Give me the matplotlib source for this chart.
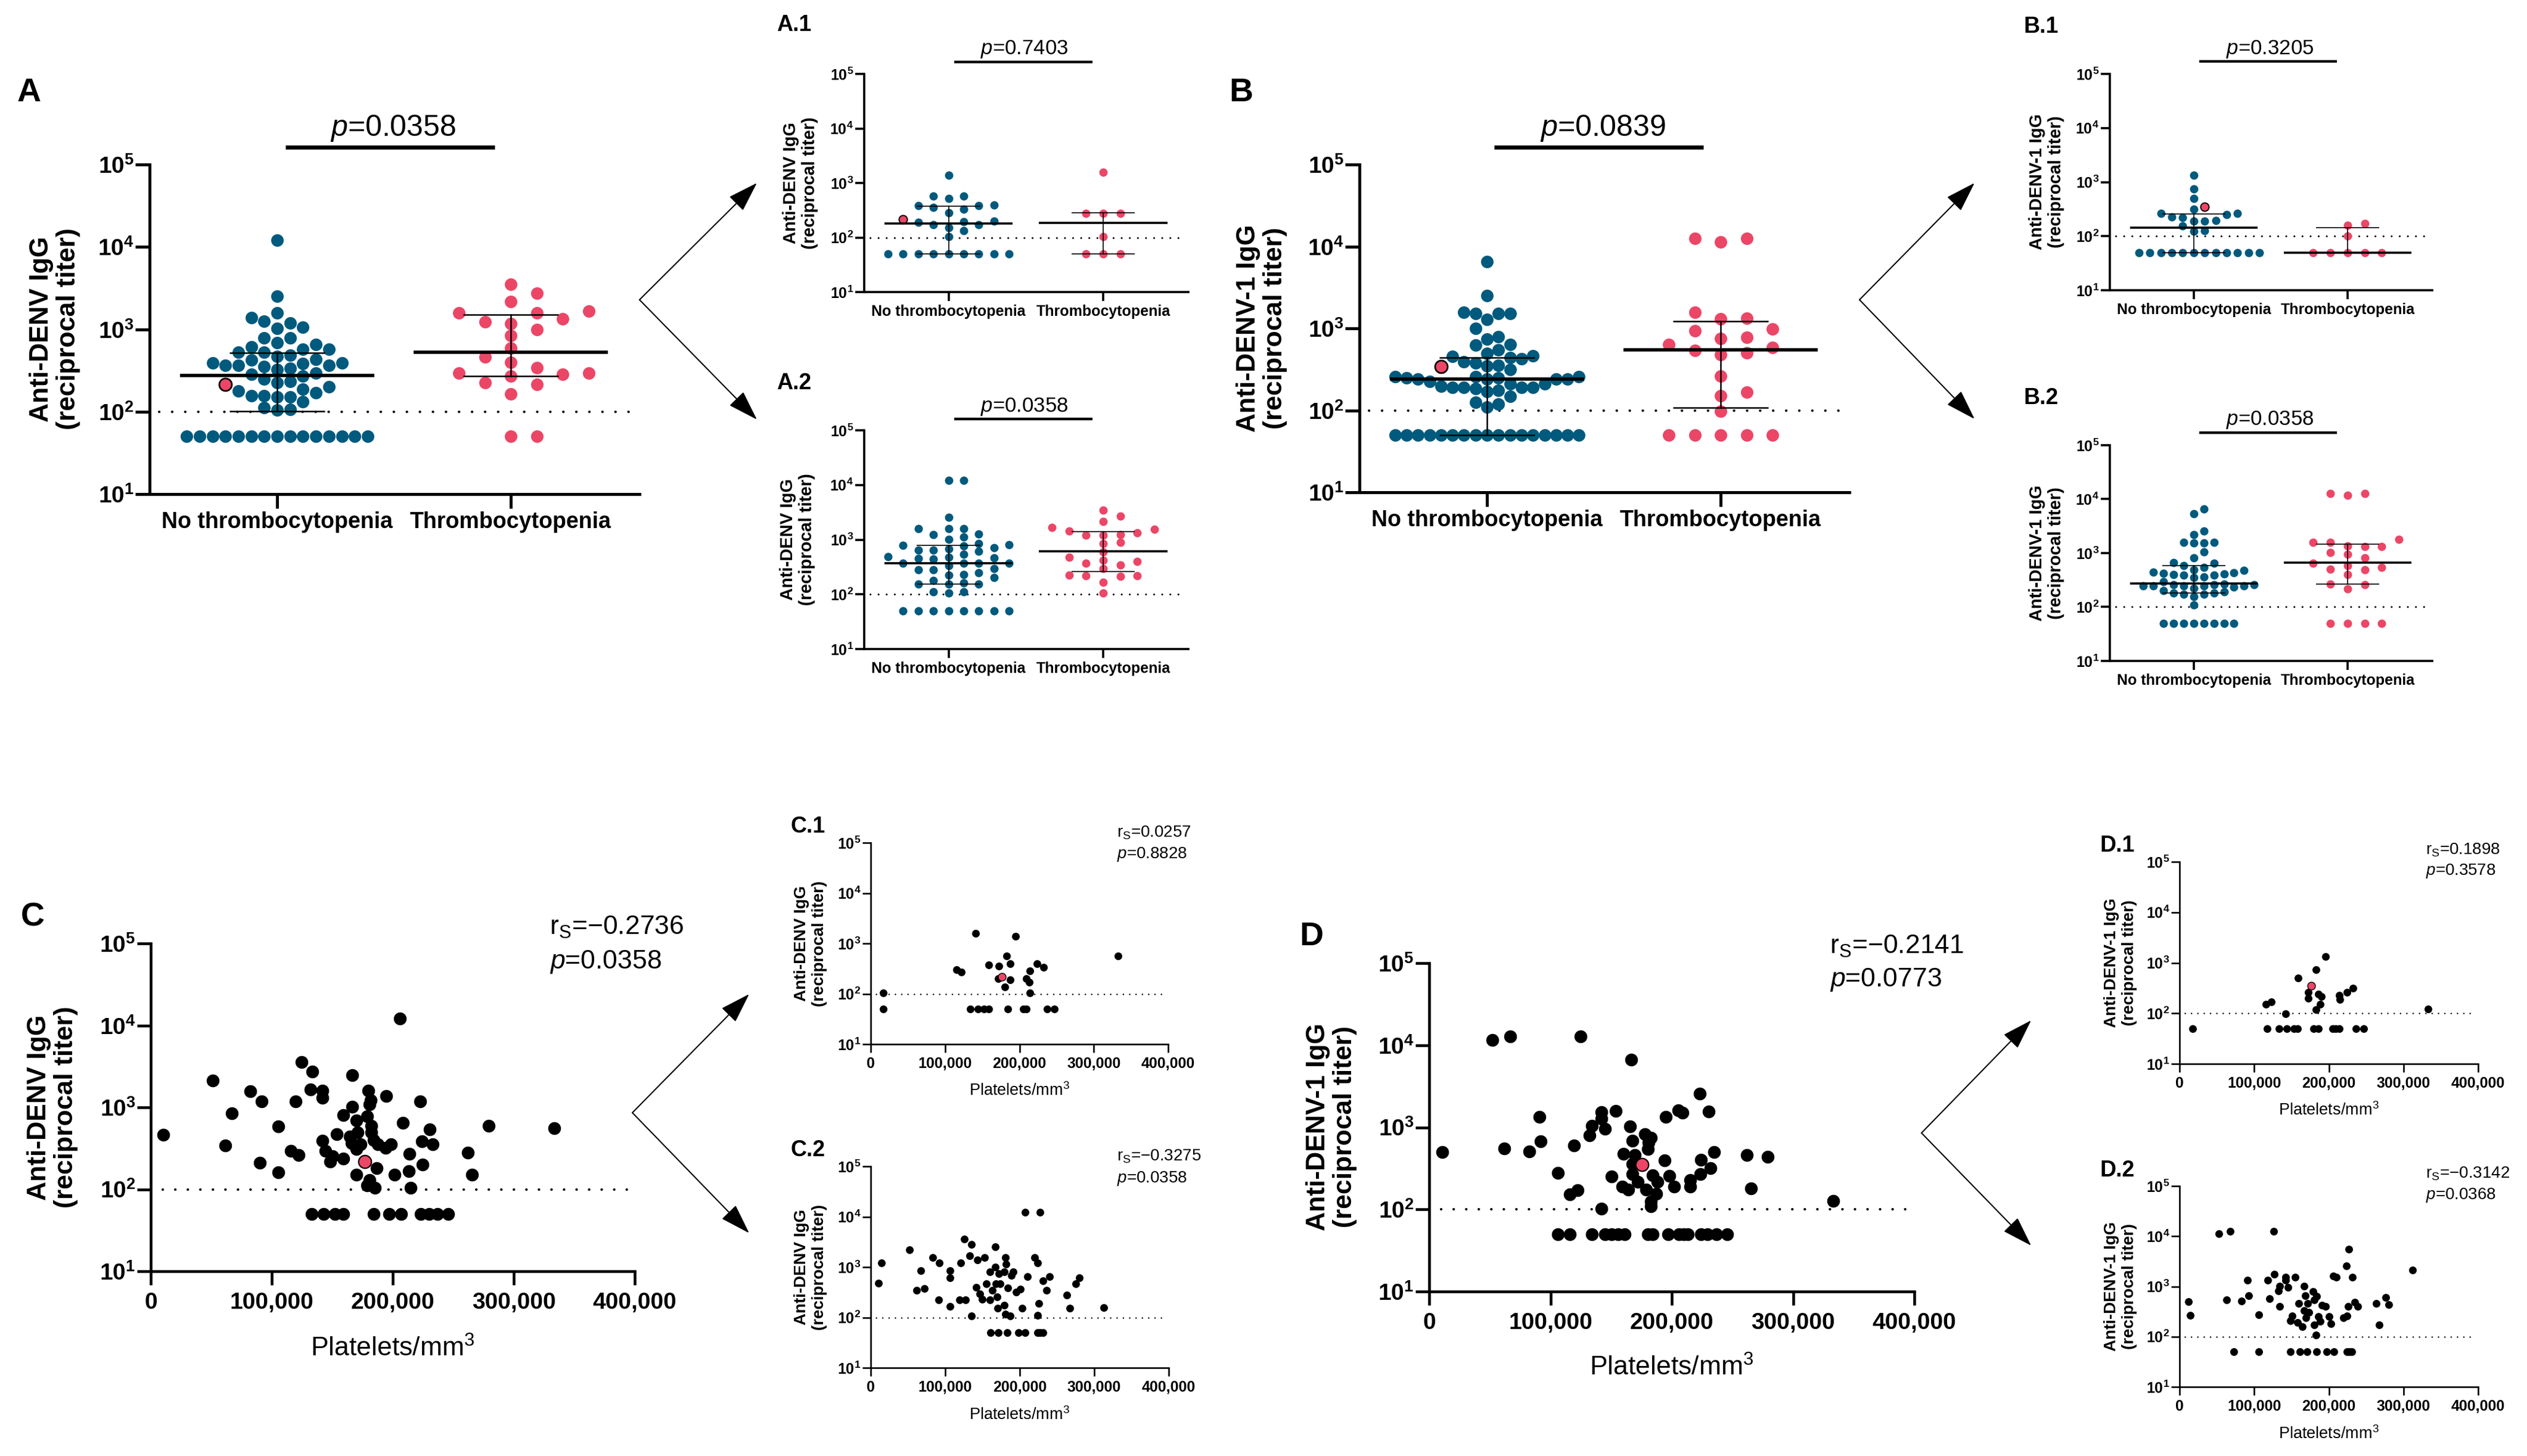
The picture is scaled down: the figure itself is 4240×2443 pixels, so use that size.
import numpy as np
import matplotlib
matplotlib.use("Agg")
import matplotlib.pyplot as plt
from matplotlib import font_manager
from matplotlib.ticker import NullLocator

W, H = 4240, 2443
BLUE = "#005a7d"
PINK = "#ec4667"

names = {f.name for f in font_manager.fontManager.ttflist}
FONT = "Liberation Sans" if "Liberation Sans" in names else "DejaVu Sans"
plt.rcParams["font.family"] = [FONT, "DejaVu Sans"]
plt.rcParams["mathtext.fontset"] = "custom"
plt.rcParams["mathtext.rm"] = FONT
plt.rcParams["mathtext.it"] = FONT + ":italic"
plt.rcParams["mathtext.bf"] = FONT + ":bold"

# ---------------------------------------------------------------- data
groups = ["No thrombocytopenia", "Thrombocytopenia"]
titer_ticks = [10, 100, 1000, 10000, 100000]
titer_tick_labels = [r"$\mathbf{10^{1}}$", r"$\mathbf{10^{2}}$", r"$\mathbf{10^{3}}$",
                     r"$\mathbf{10^{4}}$", r"$\mathbf{10^{5}}$"]
platelet_ticks = [0, 100000, 200000, 300000, 400000]
platelet_tick_labels = ["0", "100,000", "200,000", "300,000", "400,000"]
cutoff = 100

# Panel A: Anti-DENV IgG
A_no = [12100, 2535, 1578, 1387, 1253, 1192, 1057, 1030, 785, 785, 690, 650, 608, 573, 568,
        526, 526, 483, 471, 433, 422, 387, 387, 381, 365, 365, 365, 356, 335, 327, 295, 283,
        271, 249, 233, 225, 201, 188, 177, 170, 156, 156, 152, 152, 132, 111, 106, 105,
        50, 50, 50, 50, 50, 50, 50, 50, 50, 50, 50, 50, 50, 50, 50]
A_thr = [3530, 2740, 2180, 1570, 1650, 1580, 1230, 1340, 1180, 986, 834, 593, 463, 397, 344,
         295, 271, 283, 295, 214, 225, 163, 50, 50]
A_hl = [213]
A_median = [275, 526]
A_q1 = [102, 271]
A_q3 = [521, 1510]

# Panel A.1
A1_no = [1374, 570, 570, 524, 393, 380, 380, 360, 333, 282, 200, 196, 188, 170, 173, 153, 135,
         105, 50, 50, 50, 50, 50, 50, 50, 50, 50]
A1_thr = [1560, 276, 276, 276, 103, 50, 50, 50]
A1_hl = [214]
A1_median = [181, 185]
A1_q1 = [50, 50]
A1_q3 = [378, 286]

# Panel A.2
A2_no = [12100, 12100, 2560, 1589, 1589, 1589, 1280, 1247, 1110, 1023, 855, 817, 795, 714, 683,
         775, 647, 647, 607, 540, 477, 485, 463, 451, 444, 370, 370, 370, 370, 339, 296, 283,
         283, 247, 226, 232, 201, 177, 153, 153, 153, 162, 105, 110, 112,
         50, 50, 50, 50, 50, 50, 50, 50]
A2_thr = [3500, 2723, 2136, 1560, 1660, 1426, 1213, 1327, 1247, 1213, 855, 886, 597, 477, 424,
          370, 348, 398, 296, 220, 220, 212, 226, 165, 107]
A2_hl = []
A2_median = [370, 607]
A2_q1 = [153, 259]
A2_q3 = [782, 1400]

# Panel B: Anti-DENV-1 IgG
B_no = [6560, 2513, 1528, 1528, 1528, 1567, 1288, 1005, 790, 738, 638, 621, 547, 493, 441, 453,
        465, 427, 381, 392, 356, 313, 350, 248, 259, 242, 242, 242, 242, 248, 259, 259, 209,
        209, 189, 224, 184, 189, 189, 189, 176, 197, 169, 149, 120, 125, 110,
        50, 50, 50, 50, 50, 50, 50, 50, 50, 50, 50, 50, 50, 50, 50, 50, 50]
B_thr = [12480, 12480, 11250, 1567, 1297, 1320, 979, 938, 777, 757, 638, 537, 585, 481, 506,
         264, 151, 166, 97, 50, 50, 50, 50, 50]
B_hl = [341]
B_median = [242, 551]
B_q1 = [50, 108]
B_q3 = [441, 1213]

# Panel B.1
B1_no = [1334, 750, 504, 316, 265, 265, 249, 220, 225, 190, 197, 190, 153, 122, 125,
         50, 50, 50, 50, 50, 50, 50, 50, 50, 50, 50, 50]
B1_thr = [157, 173, 100, 50, 50, 50, 50, 50]
B1_hl = [350]
B1_median = [142, 50]
B1_q1 = [50, 50]
B1_q3 = [256, 142]

# Panel B.2
B2_no = [6590, 5430, 2557, 2204, 1549, 1549, 1592, 1578, 1045, 817, 674, 591, 645, 541, 474,
         442, 424, 495, 365, 398, 391, 408, 435, 391, 349, 293, 268, 225, 245, 257, 245, 245,
         257, 245, 245, 261, 235, 201, 173, 189, 173, 181, 181, 158, 110,
         50, 50, 50, 50, 50, 50, 50, 50]
B2_thr = [12740, 12740, 11680, 1815, 1578, 1578, 1359, 1323, 1323, 1018, 940, 817, 656, 581,
          509, 541, 495, 398, 268, 261, 215, 50, 50, 50, 50]
B2_hl = []
B2_median = [273, 662]
B2_q1 = [181, 264]
B2_q3 = [581, 1459]

p_values = {"A": "0.0358", "A.1": "0.7403", "A.2": "0.0358",
            "B": "0.0839", "B.1": "0.3205", "B.2": "0.0358"}

# Panel C: platelets vs Anti-DENV IgG  (platelets/mm3, titer)
C_points = [(10100, 462), (51300, 2133), (66800, 840), (61400, 342), (82400, 1560),
            (91400, 1175), (90300, 211), (105500, 590), (105500, 162), (115600, 295),
            (122100, 264), (119600, 1175), (124700, 3548), (133300, 2710), (131900, 1644),
            (142000, 1585), (142000, 1313), (142000, 389), (144500, 295), (148100, 219),
            (150000, 254), (153600, 469), (159000, 809), (159000, 236), (164400, 438),
            (166600, 2477), (166600, 1012), (166200, 369), (169800, 697), (169800, 310),
            (169800, 151), (170900, 498), (173400, 356), (178900, 778), (180000, 1585),
            (181800, 1219), (180700, 1089), (182500, 600), (182500, 498), (184300, 397),
            (180700, 130), (178900, 112), (185400, 104), (186800, 182), (187900, 356),
            (194000, 318), (194400, 1366), (198700, 356), (201600, 151), (206000, 12080),
            (208500, 646), (213900, 273), (213200, 168), (215000, 104), (222900, 1175),
            (224000, 383), (224800, 199), (230500, 536), (233100, 356), (262000, 280),
            (265600, 151), (279300, 600), (333500, 556),
            (133000, 50), (143000, 50), (152000, 50), (159000, 50), (184000, 50), (197000, 50),
            (207000, 50), (223000, 50), (230000, 50), (237000, 50), (246000, 50)]
C_hl = [(177000, 219)]

C1_points = [(17200, 104), (17200, 50), (115600, 299), (121600, 272), (141300, 1570),
             (158500, 380), (172500, 359), (171400, 199), (182800, 570), (187800, 394),
             (180000, 135), (187800, 188), (195000, 1380), (209300, 199), (214000, 282),
             (212900, 171), (214000, 104), (223600, 394), (232600, 340), (332700, 570),
             (133500, 50), (144000, 50), (152000, 50), (158500, 50), (184000, 50),
             (205000, 50), (209000, 50), (237000, 50), (247000, 50)]
C1_hl = [(176000, 218)]

C2_points = [(10700, 479), (14300, 1202), (51900, 2208), (61900, 350), (67300, 847),
             (72300, 370), (83000, 1556), (91200, 221), (92300, 1202), (106600, 847),
             (106600, 608), (106600, 167), (118800, 221), (120600, 1202), (125900, 3631),
             (127000, 221), (132400, 1675), (134900, 2806), (134900, 106), (141300, 398),
             (143100, 1393), (146700, 291), (149200, 229), (152800, 1528), (154900, 461),
             (159900, 221), (159900, 802), (163500, 350), (167400, 2559), (167400, 1000),
             (168200, 461), (169200, 256), (170700, 153), (172100, 731), (173500, 461),
             (178900, 802), (178900, 177), (180700, 1528), (181400, 1159), (180700, 116),
             (184300, 384), (187100, 106), (188600, 692), (191400, 802), (195000, 319),
             (200400, 363), (203200, 153), (207500, 12250), (210000, 643), (220000, 1556),
             (223600, 1202), (223600, 110), (225400, 191), (227200, 12250), (230800, 535),
             (236100, 350), (239700, 643), (263000, 275), (267300, 153), (275500, 461),
             (280100, 608), (313100, 158),
             (161000, 50), (171000, 50), (183500, 50), (198000, 50), (207500, 50),
             (223600, 50), (227000, 50), (230800, 50)]
C2_hl = []

# Panel D: platelets vs Anti-DENV-1 IgG
D_points = [(10800, 497), (51900, 11560), (66700, 12700), (62000, 551), (82500, 506),
            (90800, 1349), (91900, 670), (105900, 278), (116000, 153), (122200, 171),
            (119600, 600), (125000, 12700), (132300, 794), (134100, 1045), (142000, 1531),
            (142000, 1270), (144900, 958), (142000, 102), (150300, 251), (153900, 1571),
            (160000, 476), (159300, 190), (164000, 174), (166500, 6640), (165800, 1026),
            (167600, 681), (169400, 456), (167600, 359), (167600, 267), (171900, 215),
            (178000, 829), (180900, 653), (182700, 742), (180200, 541), (184500, 260),
            (179100, 174), (188100, 215), (187400, 156), (182700, 124), (182700, 109),
            (194200, 398), (195300, 1349), (198200, 255), (201800, 190), (205400, 1600),
            (209000, 1506), (215100, 229), (215100, 190), (223100, 2553), (224100, 402),
            (223400, 267), (230300, 1558), (232100, 316), (235000, 497), (262000, 456),
            (265600, 179), (278900, 434), (333300, 126),
            (105900, 50), (116000, 50), (134000, 50), (145000, 50), (150300, 50),
            (155700, 50), (161000, 50), (180200, 50), (184500, 50), (197000, 50),
            (206000, 50), (209700, 50), (213300, 50), (224100, 50), (229500, 50),
            (236800, 50), (245800, 50)]
D_hl = [(175500, 350)]

D1_points = [(17400, 50), (115800, 150), (122700, 168), (142500, 98), (159100, 503),
             (172300, 262), (172300, 199), (183200, 729), (185900, 239), (189700, 218),
             (188600, 150), (183200, 118), (195500, 1321), (214100, 226), (214900, 188),
             (224600, 262), (232300, 316), (333000, 123),
             (117300, 50), (133600, 50), (144000, 50), (153000, 50), (158000, 50),
             (179300, 50), (185900, 50), (205200, 50), (209100, 50), (213700, 50),
             (236600, 50), (247000, 50)]
D1_hl = [(176200, 347)]

D2_points = [(11600, 498), (14300, 264), (52300, 11350), (67800, 12450), (62700, 546),
             (83300, 507), (91000, 1334), (92500, 658), (106500, 274), (118100, 1334),
             (120800, 578), (125800, 12450), (126600, 1762), (132400, 807), (134400, 1009),
             (134400, 398), (142500, 1521), (142500, 1334), (145200, 955), (148300, 207),
             (151000, 259), (154900, 1521), (158000, 189), (159900, 462), (164600, 157),
             (166500, 1009), (166500, 330), (168400, 658), (169600, 241), (171500, 454),
             (173100, 301), (178900, 792), (180100, 172), (180800, 546), (183900, 634),
             (183200, 108), (185900, 250), (188600, 200), (190500, 421), (195500, 398),
             (200200, 250), (202500, 182), (206000, 1607), (209900, 1521), (219600, 237),
             (223500, 2559), (224600, 259), (225800, 398), (226600, 5585), (231200, 1521),
             (235100, 480), (238900, 398), (263300, 454), (267200, 172), (276100, 600),
             (280000, 437), (312500, 2123),
             (72400, 50), (106500, 50), (148300, 50), (161500, 50), (171100, 50),
             (183900, 50), (197400, 50), (207100, 50), (224600, 50), (227300, 50),
             (230400, 50)]
D2_hl = []

spearman = {"C": ("\u22120.2736", "0.0358"), "C.1": ("0.0257", "0.8828"),
            "C.2": ("\u22120.3275", "0.0358"), "D": ("\u22120.2141", "0.0773"),
            "D.1": ("0.1898", "0.3578"), "D.2": ("\u22120.3142", "0.0368")}

# ---------------------------------------------------------------- styles
MAIN_DOT = dict(spine=3.6, tlen=17, xfs=27, yfs=28, xpad=4, ypad=2, diam=21, hl_lw=2.0,
                med_lw=4.0, iqr_lw=1.8, dot_lw=3.0, gap=5.2, dx=(0.019, 0.983))
INS_DOT = dict(spine=2.6, tlen=11, xfs=18, yfs=18, xpad=4, ypad=2, diam=14, hl_lw=1.4,
               med_lw=2.6, iqr_lw=1.2, dot_lw=2.2, gap=4.4, dx=(0.018, 0.99))
MAIN_SC = dict(spine=3.3, tlen=16.5, xfs=28, yfs=28, xpad=9, ypad=2, diam=21.5, hl_lw=1.6,
               dot_lw=3.0, gap=5.0, dx=(0.025, 0.984))
INS_SC = dict(spine=1.9, tlen=10, xfs=18, yfs=18, xpad=5, ypad=2, diam=13, hl_lw=1.0,
              dot_lw=1.8, gap=4.2, dx=(0.018, 0.986))

fig = plt.figure(figsize=(W / 100, H / 100), dpi=100)


def add_ax(box):
    l, t, r, b = box
    return fig.add_axes([l / W, 1 - b / H, (r - l) / W, (b - t) / H])


def base_axes(box, st):
    ax = add_ax(box)
    ax.patch.set_alpha(0)
    for s in ("top", "right"):
        ax.spines[s].set_visible(False)
    for s in ("left", "bottom"):
        ax.spines[s].set_linewidth(st["spine"])
        ax.spines[s].set_capstyle("projecting")
    ax.set_yscale("log")
    ax.set_ylim(10, 1e5)
    ax.set_yticks(titer_ticks, labels=titer_tick_labels, fontsize=st["yfs"])
    ax.yaxis.set_minor_locator(NullLocator())
    ax.tick_params(axis="both", which="major", direction="out", length=st["tlen"],
                   width=st["spine"], color="black")
    ax.tick_params(axis="y", pad=st["ypad"])
    ax.tick_params(axis="x", pad=st["xpad"])
    ax.axhline(cutoff, xmin=st["dx"][0], xmax=st["dx"][1], color="black", lw=st["dot_lw"],
               ls=(0, (0.05, st["gap"])), dash_capstyle="round", zorder=2)
    return ax


def swarm_x(ax, center, vals, step_px, diam_px, n_last=0):
    """Grid beeswarm: each point goes to the nearest free column (display pixels)."""
    vals = np.asarray(vals, dtype=float)
    n = len(vals)
    if n == 0:
        return np.array([])
    ys = ax.transData.transform(np.column_stack([np.full(n, center), vals]))[:, 1]
    ux = ax.transData.transform((center + 1, 100))[0] - ax.transData.transform((center, 100))[0]
    order = list(np.argsort(ys[:n - n_last], kind="stable")) + list(range(n - n_last, n))
    cands = [0]
    for k in range(1, 80):
        cands += [k, -k]
    placed = []
    off = np.zeros(n)
    lim = min(0.97 * diam_px, 0.99 * step_px) ** 2
    for i in order:
        for c in cands:
            cx = c * step_px
            if all((cx - px) ** 2 + (ys[i] - py) ** 2 >= lim for px, py in placed):
                off[i] = cx
                placed.append((cx, ys[i]))
                break
    return center + off / ux


def dot_panel(box, no, thr, hl, med, q1, q3, st, step_no, step_thr):
    ax = base_axes(box, st)
    ax.set_xlim(-0.546, 1.551)
    ax.set_xticks([0, 1], labels=groups, fontsize=st["xfs"], fontweight="bold")
    x_no = swarm_x(ax, 0, list(no) + list(hl), step_no, st["diam"], n_last=len(hl))
    x_thr = swarm_x(ax, 1, thr, step_thr, st["diam"])
    msz = (st["diam"] * 0.72) ** 2
    ax.scatter(x_no[:len(no)], no, s=msz, color=BLUE, linewidths=0, zorder=3)
    ax.scatter(x_thr, thr, s=msz, color=PINK, linewidths=0, zorder=3)
    if len(hl):
        ax.scatter(x_no[len(no):], hl, s=msz, facecolor=PINK, edgecolor="black",
                   linewidths=st["hl_lw"], zorder=4)
    for i in range(2):
        ax.plot([i - 0.415, i + 0.415], [med[i], med[i]], color="black", lw=st["med_lw"],
                solid_capstyle="butt", zorder=5)
        ax.plot([i, i], [q1[i], q3[i]], color="black", lw=st["iqr_lw"], zorder=5)
        for q in (q1[i], q3[i]):
            ax.plot([i - 0.205, i + 0.205], [q, q], color="black", lw=st["iqr_lw"],
                    solid_capstyle="butt", zorder=5)
    return ax


def scatter_panel(box, pts, hl, st):
    ax = base_axes(box, st)
    ax.set_xlim(0, 400000)
    ax.set_xticks(platelet_ticks, labels=platelet_tick_labels, fontsize=st["xfs"],
                  fontweight="bold")
    msz = (st["diam"] * 0.72) ** 2
    px = [p[0] for p in pts]
    ty = [p[1] for p in pts]
    ax.scatter(px, ty, s=msz, color="black", linewidths=0, zorder=3, clip_on=False)
    if len(hl):
        ax.scatter([p[0] for p in hl], [p[1] for p in hl], s=msz, facecolor=PINK,
                   edgecolor="black", linewidths=st["hl_lw"], zorder=4, clip_on=False)
    return ax


# ---------------------------------------------------------------- panels
dot_panel((251, 276, 1073, 829), A_no, A_thr, A_hl, A_median, A_q1, A_q3, MAIN_DOT, 21.7, 43.5)
dot_panel((1450, 124, 1994, 490), A1_no, A1_thr, A1_hl, A1_median, A1_q1, A1_q3,
          INS_DOT, 25.4, 28.7)
dot_panel((1450, 722, 1994, 1089), A2_no, A2_thr, A2_hl, A2_median, A2_q1, A2_q3,
          INS_DOT, 25.4, 28.7)
dot_panel((2281, 276, 3103, 826), B_no, B_thr, B_hl, B_median, B_q1, B_q3, MAIN_DOT, 19.3, 43.5)
dot_panel((3540, 124, 4081, 487), B1_no, B1_thr, B1_hl, B1_median, B1_q1, B1_q3,
          INS_DOT, 18.4, 28.7)
dot_panel((3540, 747, 4081, 1109), B2_no, B2_thr, B2_hl, B2_median, B2_q1, B2_q3,
          INS_DOT, 16.9, 28.7)

scatter_panel((253, 1583, 1065, 2133), C_points, C_hl, MAIN_SC)
scatter_panel((1461, 1414, 1960, 1752), C1_points, C1_hl, INS_SC)
scatter_panel((1461, 1957, 1961, 2295), C2_points, C2_hl, INS_SC)
scatter_panel((2398, 1616, 3212, 2167), D_points, D_hl, MAIN_SC)
scatter_panel((3657, 1446, 4158, 1785), D1_points, D1_hl, INS_SC)
scatter_panel((3657, 1990, 4158, 2327), D2_points, D2_hl, INS_SC)

# ---------------------------------------------------------------- annotations (pixel overlay)
ov = fig.add_axes([0, 0, 1, 1], zorder=10)
ov.set_xlim(0, W)
ov.set_ylim(H, 0)
ov.axis("off")

# panel letters
for t, x, y in [("A", 49, 156), ("B", 2082, 156), ("C", 55, 1540), ("D", 2200, 1572)]:
    ov.text(x, y, t, fontsize=40, fontweight="bold", ha="center", va="center")
for t, x, y in [("A.1", 1303, 42), ("A.2", 1303, 643), ("B.1", 3395, 45), ("B.2", 3395, 668),
                ("C.1", 1327, 1387), ("C.2", 1327, 1930), ("D.1", 3524, 1419),
                ("D.2", 3524, 1964)]:
    ov.text(x, y, t, fontsize=27, fontweight="bold", ha="left", va="center")

# y-axis titles
ylab_denv = "Anti-DENV IgG\n(reciprocal titer)"
ylab_denv1 = "Anti-DENV-1 IgG\n(reciprocal titer)"
for lab, x, y, fs in [(ylab_denv, 92, 552, 32), (ylab_denv1, 2117, 551, 32),
                      (ylab_denv, 1343, 307, 21), (ylab_denv, 1338, 905, 21),
                      (ylab_denv1, 3434, 305, 21), (ylab_denv1, 3434, 928, 21),
                      (ylab_denv, 88, 1858, 32), (ylab_denv, 1360, 1583, 20),
                      (ylab_denv, 1360, 2126, 20), (ylab_denv1, 2234, 1891, 32),
                      (ylab_denv1, 3558, 1615, 20), (ylab_denv1, 3558, 2158, 20)]:
    ov.text(x, y, lab, fontsize=fs, fontweight="bold", rotation=90, ha="center", va="center",
            multialignment="center", linespacing=1.15)

# x-axis titles of correlation panels
for x, y, fs in [(659, 2263, 32), (1710, 1830, 19.5), (1710, 2374, 19.5), (2805, 2295, 32),
                 (3907, 1863, 19.5), (3907, 2406, 19.5)]:
    ov.text(x, y, r"Platelets/mm$^{3}$", fontsize=fs, ha="center", va="center")

# p-value bars of group comparisons
for key, tx, ty, x0, x1, by, fs, lw in [("A", 659, 215, 479, 830, 247, 36, 5.0),
                                        ("A.1", 1719, 83, 1601, 1833, 104, 25, 3.2),
                                        ("A.2", 1719, 682, 1601, 1833, 703, 25, 3.2),
                                        ("B", 2689, 215, 2507, 2858, 247, 36, 5.0),
                                        ("B.1", 3809, 83, 3690, 3921, 103, 25, 3.2),
                                        ("B.2", 3809, 705, 3690, 3921, 726, 25, 3.2)]:
    ov.text(tx, ty, r"$\mathit{p}$=" + p_values[key], fontsize=fs, ha="center", va="center")
    ov.plot([x0, x1], [by, by], color="black", lw=lw, solid_capstyle="butt")

# Spearman annotations
for key, x, y1, y2, fs in [("C", 922, 1556, 1614, 32), ("C.1", 1874, 1397, 1434, 20),
                           ("C.2", 1874, 1940, 1977, 20), ("D", 3070, 1588, 1644, 32),
                           ("D.1", 4070, 1426, 1462, 20), ("D.2", 4070, 1969, 2006, 20)]:
    r, p = spearman[key]
    ov.text(x, y1, r"r$_\mathrm{S}$=" + r, fontsize=fs, ha="left", va="center")
    ov.text(x, y2, r"$\mathit{p}$=" + p, fontsize=fs, ha="left", va="center")

# arrows towards the sub-panels
arrow_style = "-|>,head_length=0.8,head_width=0.26"
for vx, vy, tips in [(1073, 503, [(1270, 307), (1270, 704)]),
                     (3120, 503, [(3313, 307), (3313, 703)]),
                     (1061, 1867, [(1257, 1668), (1257, 2069)]),
                     (3224, 1901, [(3408, 1712), (3408, 2090)])]:
    for tx, ty in tips:
        ov.annotate("", xy=(tx, ty), xytext=(vx, vy),
                    arrowprops=dict(arrowstyle=arrow_style, color="black", lw=1.5,
                                    shrinkA=0, shrinkB=0, mutation_scale=40))

fig.savefig("out.png", dpi=100)
